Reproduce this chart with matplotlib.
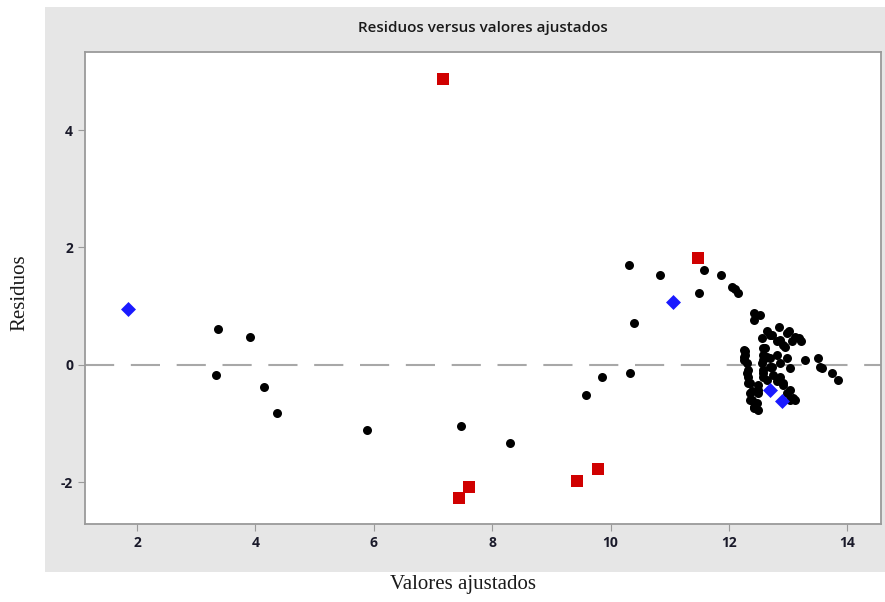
import numpy as np
import matplotlib
matplotlib.use("Agg")
import matplotlib.pyplot as plt
from matplotlib.patches import Rectangle

plt.rcParams['axes.unicode_minus'] = False

# fitted values / residuals
black_x = [3.37, 3.91, 3.33, 4.15, 4.36, 5.88, 7.47, 8.30, 9.59, 9.85, 10.33, 10.40,
           10.32, 10.83, 11.50, 11.58, 11.86, 12.05, 12.11, 12.16,
           12.42, 12.52, 12.42, 12.84, 13.01, 13.18, 13.12, 13.21, 12.70, 12.56, 12.87,
           12.95, 12.61, 12.28, 12.25, 12.64, 12.98, 12.31, 12.56, 12.70, 13.04, 13.29,
           13.51, 13.54, 13.57, 13.74, 13.85, 12.31, 12.58, 12.87, 12.33, 12.64, 12.92,
           13.04, 12.36, 12.50, 12.36, 12.42, 12.50, 13.12, 13.09,
           12.81, 12.92, 12.25, 12.28, 12.58, 12.81, 12.25, 12.58, 12.70, 12.87, 12.33,
           12.58, 12.73, 12.33, 12.58, 12.75, 12.81, 12.36, 12.50, 12.92, 12.39, 12.50,
           12.98, 12.39, 12.47, 13.04, 12.42, 13.06, 12.99, 12.72, 12.64, 12.58]
black_y = [0.62, 0.48, -0.17, -0.37, -0.82, -1.11, -1.04, -1.33, -0.52, -0.20, -0.14, 0.72,
           1.70, 1.53, 1.23, 1.61, 1.53, 1.33, 1.29, 1.22,
           0.89, 0.85, 0.77, 0.65, 0.57, 0.45, 0.48, 0.40, 0.51, 0.45, 0.43,
           0.31, 0.28, 0.23, 0.14, 0.14, 0.11, 0.03, 0.03, -0.03, -0.06, 0.09,
           0.11, -0.03, -0.06, -0.14, -0.26, -0.14, -0.14, -0.20, -0.31, -0.26, -0.31,
           -0.43, -0.48, -0.43, -0.60, -0.71, -0.77, -0.60, -0.57,
           0.40, 0.34, 0.26, 0.17, 0.17, 0.17, 0.09, 0.09, 0.11, 0.03, -0.09,
           -0.09, -0.03, -0.20, -0.20, -0.17, -0.28, -0.31, -0.34, -0.34, -0.45, -0.48,
           -0.48, -0.60, -0.65, -0.60, -0.74, 0.40, 0.54, 0.51, 0.57, 0.29]

red_x = [7.17, 11.47, 7.61, 7.44, 9.44, 9.78]
red_y = [4.87, 1.82, -2.08, -2.27, -1.97, -1.77]

blue_x = [1.85, 11.05, 12.70, 12.90]
blue_y = [0.95, 1.08, -0.43, -0.62]

xticks = [2, 4, 6, 8, 10, 12, 14]
yticks = [-2, 0, 2, 4]

fig = plt.figure(figsize=(8.85, 6.02), dpi=100)
fig.patch.set_facecolor("white")
# grey panel behind the plot
fig.patches.append(Rectangle((45/885, 1-572/602), 840/885, 565/602,
                             transform=fig.transFigure, facecolor="#e6e6e6",
                             edgecolor="none", zorder=-10))

ax = fig.add_axes([85/885, 1-524/602, 796/885, 472/602])
ax.set_zorder(1)
ax.set_facecolor("white")
ax.axhline(0, color="#a8a8a8", lw=1.5, linestyle=(0, (14, 8)), zorder=1)
ax.scatter(black_x, black_y, s=42, c="black", marker="o", linewidths=0, zorder=3)
ax.scatter(red_x, red_y, s=78, c="#d00000", marker="s", linewidths=0, zorder=4)
ax.scatter(blue_x, blue_y, s=58, c="#1a1aff", marker="D", linewidths=0, zorder=4)

ax.set_xlim(1.12, 14.57)
ax.set_ylim(-2.71, 5.33)
ax.set_xticks(xticks)
ax.set_yticks(yticks)
for sp in ax.spines.values():
    sp.set_color("#9a9a9a")
    sp.set_linewidth(1.3)
ax.tick_params(direction="out", length=5, color="#9a9a9a", labelcolor="#1a1a2a",
               labelsize=10)
for lab in ax.get_xticklabels() + ax.get_yticklabels():
    lab.set_fontweight("bold")
    lab.set_fontfamily("Open Sans")

fig.text(483/885, 1-28/602, "Residuos versus valores ajustados", ha="center",
         va="center", fontsize=11, family="Open Sans", fontweight="semibold",
         color="#1a1a1a")
fig.text(463/885, 1-585/602, "Valores ajustados", ha="center", va="center",
         fontsize=15, family="Liberation Serif", color="#1a1a1a",
         bbox=dict(facecolor="white", edgecolor="none", pad=2))
fig.text(20/885, 1-293/602, "Residuos", ha="center", va="center", rotation=90,
         fontsize=15, family="Liberation Serif", color="#1a1a1a")

fig.savefig("out.png", dpi=100)
